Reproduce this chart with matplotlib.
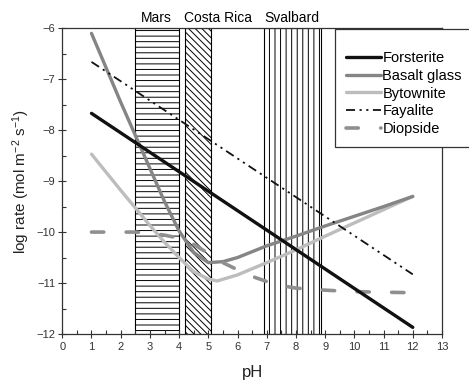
import matplotlib
matplotlib.use("Agg")
import matplotlib.pyplot as plt
from matplotlib.patches import Rectangle

plt.rcParams['font.family'] = ['Liberation Sans', 'DejaVu Sans']
plt.rcParams['mathtext.default'] = 'regular'
plt.rcParams['hatch.linewidth'] = 0.7

# ---- data ----
forsterite_ph = [1, 12]
forsterite_rate = [-7.67, -11.87]

basalt_ph = [1, 2, 3, 3.5, 4, 4.5, 5, 5.5, 6, 7, 8, 9, 10, 11, 12]
basalt_rate = [-6.1, -7.45, -8.75, -9.4, -9.98, -10.4, -10.6, -10.58, -10.5,
               -10.27, -10.08, -9.88, -9.69, -9.5, -9.3]

bytownite_ph = [1, 2, 3, 3.5, 4, 4.5, 5, 5.3, 6, 7, 8, 9, 10, 11, 12]
bytownite_rate = [-8.47, -9.18, -9.87, -10.2, -10.5, -10.78, -10.92, -10.96,
                  -10.84, -10.6, -10.35, -10.08, -9.82, -9.56, -9.3]

fayalite_ph = [1, 12]
fayalite_rate = [-6.66, -10.83]

diopside_ph = [1, 2.5, 3, 3.5, 4, 4.5, 5, 5.5, 6, 6.5, 7, 7.5, 8, 9, 10, 11, 12]
diopside_rate = [-10.0, -10.0, -10.02, -10.06, -10.12, -10.24, -10.42, -10.6,
                 -10.74, -10.87, -10.97, -11.05, -11.1, -11.14, -11.17, -11.18, -11.19]

region_names = ['Mars', 'Costa Rica', 'Svalbard']
region_lo = [2.5, 4.2, 6.9]
region_hi = [4.0, 5.1, 8.85]
region_hatch = ['---', '\\' * 5, '|||']

x_ticks = list(range(0, 14))
y_ticks = [-12, -11, -10, -9, -8, -7, -6]

# ---- figure ----
fig = plt.figure(figsize=(4.69, 3.82), dpi=100)
ax = fig.add_axes([0.1328, 0.1257, 0.8096, 0.8003])
ax.set_xlim(0, 13)
ax.set_ylim(-12, -6)

for lo, hi, h in zip(region_lo, region_hi, region_hatch):
    ax.axvspan(lo, hi, facecolor='white', edgecolor='black', hatch=h,
               lw=0.8, zorder=1)

ax.text(3.22, 1.01, region_names[0], transform=ax.get_xaxis_transform(),
        ha='center', va='bottom', fontsize=10)
ax.text(4.18, 1.01, region_names[1], transform=ax.get_xaxis_transform(),
        ha='left', va='bottom', fontsize=10)
ax.text(7.87, 1.01, region_names[2], transform=ax.get_xaxis_transform(),
        ha='center', va='bottom', fontsize=10)

l1, = ax.plot(forsterite_ph, forsterite_rate, color='#111111', lw=2.4,
              solid_capstyle='round', zorder=5, label='Forsterite')
l2, = ax.plot(basalt_ph, basalt_rate, color='#858585', lw=2.4,
              solid_capstyle='round', zorder=4, label='Basalt glass')
l3, = ax.plot(bytownite_ph, bytownite_rate, color='#bdbdbd', lw=2.4,
              solid_capstyle='round', zorder=3, label='Bytownite')
l4, = ax.plot(fayalite_ph, fayalite_rate, color='#111111', lw=1.3,
              dashes=(5, 2.5, 1.2, 2.5, 1.2, 2.5), zorder=5, label='Fayalite')
l5, = ax.plot(diopside_ph, diopside_rate, color='#8f8f8f', lw=2.6,
              dashes=(3.4, 6.2), dash_capstyle='round', zorder=4,
              label='Diopside')

ax.set_xticks(x_ticks)
ax.set_xticks([x + 0.5 for x in range(0, 13)], minor=True)
ax.set_yticks(y_ticks)
ax.set_yticks([y + 0.5 for y in range(-12, -6)], minor=True)
ax.set_yticklabels(['\u221212', '\u221211', '\u221210', '\u22129', '\u22128', '\u22127', '\u22126'])
ax.tick_params(axis='both', which='major', direction='inout', length=6,
               width=0.8, labelsize=8, colors='#333333', labelcolor='#333333')
ax.tick_params(axis='both', which='minor', direction='in', length=3, width=0.8,
               colors='#333333')
ax.tick_params(axis='x', pad=3)
ax.tick_params(axis='y', pad=2)
for s in ax.spines.values():
    s.set_linewidth(0.9)
    s.set_color('#333333')

ax.set_xlabel('pH', fontsize=12, color='#222222', labelpad=9)
ax.set_ylabel('log rate (mol m$^{-2}$ s$^{-1}$)', fontsize=11,
              color='#222222', labelpad=3)

# legend frame extending past the figure edge
frame = Rectangle((335 / 469, 1 - 147 / 382), 0.5, (147 - 29) / 382,
                  transform=fig.transFigure, facecolor='white',
                  edgecolor='#333333', lw=0.9, zorder=10, clip_on=False)
fig.patches.append(frame)

leg = fig.legend(handles=[l1, l2, l3, l4, l5], loc='upper left',
                 bbox_to_anchor=(346 / 469, 1 - 51 / 382), frameon=False,
                 fontsize=10.5, handlelength=2.4, handletextpad=0.1,
                 labelspacing=0.26, borderpad=0, borderaxespad=0)
leg.set_zorder(11)

fig.savefig('out.png', dpi=100)
